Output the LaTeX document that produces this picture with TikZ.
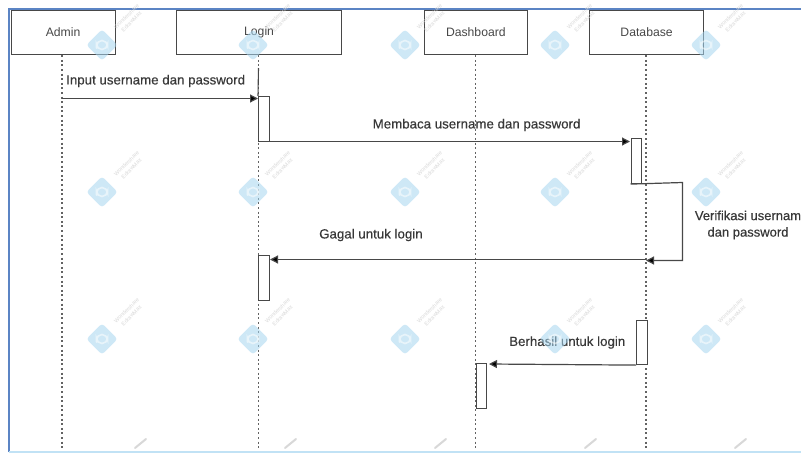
\documentclass[tikz,border=0pt]{standalone}
\usepackage{fontspec}
\setmainfont{Liberation Sans}
\newfontfamily\labelfont[FakeBold=0.35]{Liberation Sans}
\usetikzlibrary{arrows.meta}
\definecolor{ink}{HTML}{484848}
\definecolor{frameblue}{HTML}{5B84C4}
\definecolor{markblue}{HTML}{A6D6F0}
\definecolor{marktext}{HTML}{D8D8D8}
\tikzset{
  actor/.style={draw=ink,line width=1.2pt,fill=white,anchor=north west,inner sep=0pt,font=\fontsize{12.2}{14}\selectfont,text=ink},
  lifeline/.style={draw=ink!85,line width=1.3pt,dash pattern=on 2pt off 2.6pt},
  activation/.style={draw=ink,line width=1.1pt,fill=white,anchor=north west,inner sep=0pt,minimum width=10.5pt},
  msg/.style={draw=ink,line width=1.2pt,-{Triangle[length=8pt,width=8pt,fill=black]}},
  msgtext/.style={inner sep=0pt,text=black!78,font=\labelfont\fontsize{13.3}{16}\selectfont},
  logo/.pic={
    \fill[markblue,rotate=45,rounded corners=3pt,opacity=.55] (-11,-11) rectangle (11,11);
    \draw[white,line width=1.6pt,line cap=round,opacity=.55] (-5.5,3) -- (-5.5,-1) arc[start angle=180,end angle=0,radius=5.5] -- (5.5,1) arc[start angle=0,end angle=-180,radius=5.5];
    \node[rotate=45,text=marktext,font=\fontsize{5.5}{7}\selectfont,align=center,inner sep=0pt] at (27,-26) {Wondershare\\EdrawMax};
  }
}
\begin{document}
\begin{tikzpicture}[x=1pt,y=-1pt]
\useasboundingbox (0,0) rectangle (801,453);
\fill[white] (0,0) rectangle (801,453);
% frame
\draw[frameblue,line width=1.5pt] (9,452) -- (9,9) -- (801,9);
\draw[markblue!70,line width=1.6pt] (9,451.8) -- (801,451.8);
% lifelines ends
\coordinate (adminEnd) at (62,449);
\coordinate (loginEnd) at (258.5,449);
\coordinate (dashEnd) at (475.5,449);
\coordinate (dbEnd) at (646,449);
% actors
\node[actor,minimum width=104pt,minimum height=44pt] (admin) at (10.5,10) {Admin};
\node[actor,minimum width=165pt,minimum height=44pt] (login) at (176,10) {Login};
\node[actor,minimum width=103.5pt,minimum height=44pt] (dash) at (423.5,10) {Dashboard};
\node[actor,minimum width=114pt,minimum height=44pt] (db) at (589,10) {Database};
\draw[lifeline] (admin.south -| adminEnd) -- (adminEnd);
\draw[lifeline] (login.south -| loginEnd) -- (loginEnd);
\draw[lifeline] (dash.south -| dashEnd) -- (dashEnd);
\draw[lifeline] (db.south -| dbEnd) -- (dbEnd);
\coordinate (stubTop) at (258.5,68);
% activations
\node[activation,minimum height=45pt] (a1) at (258,96) {};
\node[activation,minimum height=45pt] (a2) at (630.5,138) {};
\node[activation,minimum height=45pt] (a3) at (258,255) {};
\node[activation,minimum height=44pt,minimum width=11pt] (a4) at (636,320) {};
\node[activation,minimum height=45pt] (a5) at (475.5,363) {};
\draw[draw=ink,line width=1.1pt] (stubTop) -- (a1.north west);
% messages
\coordinate (m1s) at (62,98.5);
\coordinate (m1e) at (258,98.5);
\draw[msg] (m1s) -- (m1e);
\coordinate (m2e) at (630,141.5);
\draw[msg] (a1.south east |- m2e) -- (m2e);
\coordinate (selfA) at (682.5,182.5);
\coordinate (selfB) at (682.5,260.5);
\coordinate (selfEnd) at (646,260.5);
\draw[msg] (a2.south west) -- (selfA) -- (selfB) -- (selfEnd);
\coordinate (m4s) at (646,259.5);
\coordinate (m4e) at (270,259.5);
\draw[msg] (m4s) -- (m4e);
\coordinate (m5e) at (489,364);
\draw[msg] (a4.south west) -- (m5e);
% labels
\node[msgtext,anchor=west] (t1) at (66,81) {Input username dan password};
\node[msgtext,anchor=west] (t2) at (372.5,125) {Membaca username dan password};
\node[msgtext,anchor=west] (t3) at (319,235) {Gagal untuk login};
\node[msgtext,anchor=west] (t4) at (509,342.5) {Berhasil untuk login};
\node[msgtext,align=center,anchor=north,font=\labelfont\fontsize{13}{16.5}\selectfont] (t5) at (748,210.5) {Verifikasi usernam\\dan password};
% watermarks, over everything
\foreach \yy in {45,192,339}{
  \foreach \xx in {102,253,405,555,706}{
    \pic at (\xx,\yy) {logo};
  }
}
\foreach \xx in {135,285,435,585,735}{
  \draw[marktext,line width=2pt,line cap=round] (\xx,448) -- (\xx+11,439);
}
\end{tikzpicture}
\end{document}
